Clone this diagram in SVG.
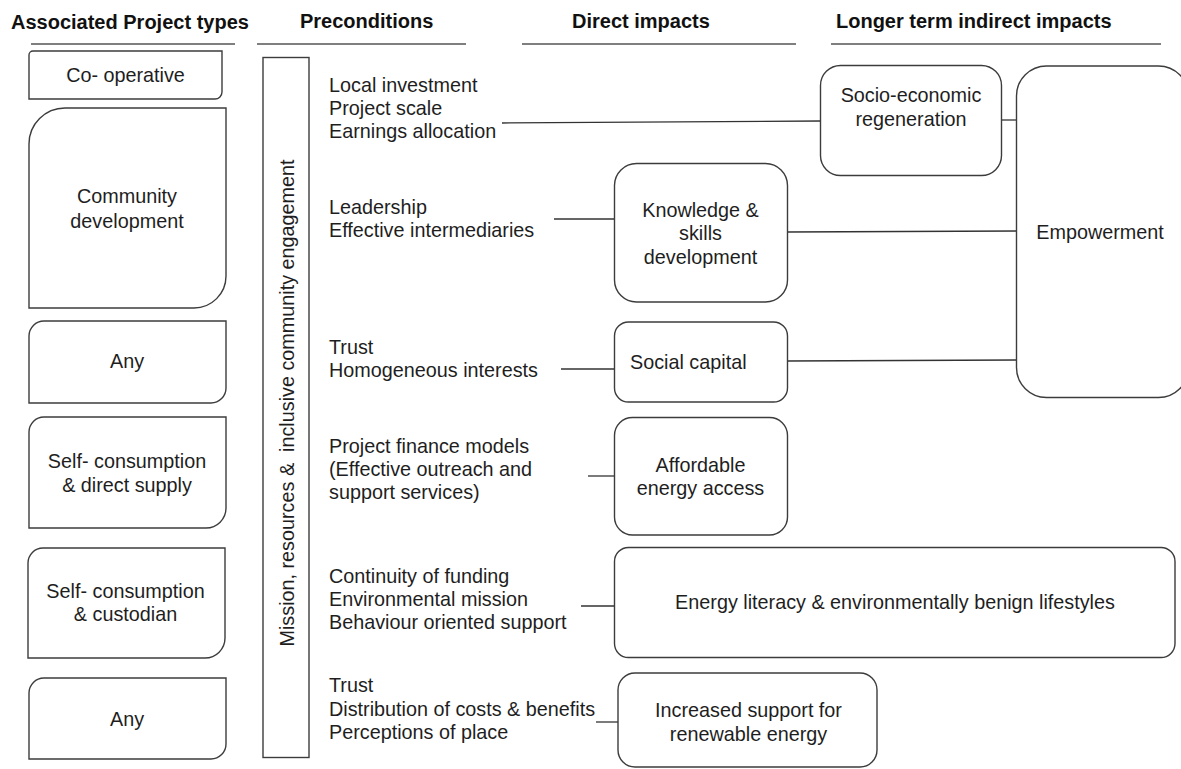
<svg xmlns="http://www.w3.org/2000/svg" width="1181" height="769" viewBox="0 0 1181 769">
<style>
text{font-family:"Liberation Sans",Arial,sans-serif;font-size:19.8px;fill:#1e1e1e}
.h{font-weight:bold;font-size:20px;fill:#111}
.c{text-anchor:middle}
.box{fill:#fff;stroke:#3c3c3c;stroke-width:1.4}
.ul{stroke:#555;stroke-width:1.6;fill:none}
.ln{stroke:#333;stroke-width:1.3;fill:none}
</style>
<rect width="1181" height="769" fill="#fff"/>
<g id="headers">
<text class="h" x="11" y="29">Associated Project types</text>
<text class="h" x="300" y="28">Preconditions</text>
<text class="h" x="572" y="28">Direct impacts</text>
<text class="h" x="836" y="28">Longer term indirect impacts</text>
<line class="ul" x1="31" y1="44" x2="235" y2="44"/>
<line class="ul" x1="257" y1="44" x2="466" y2="44"/>
<line class="ul" x1="522" y1="44" x2="796" y2="44"/>
<line class="ul" x1="831" y1="44" x2="1161" y2="44"/>
</g>
<g id="connectors">
<line class="ln" x1="502" y1="123" x2="821" y2="121"/>
<line class="ln" x1="1001" y1="120" x2="1017" y2="120"/>
<line class="ln" x1="554" y1="219" x2="614" y2="219"/>
<line class="ln" x1="787" y1="232" x2="1017" y2="231"/>
<line class="ln" x1="561" y1="369" x2="614" y2="369"/>
<line class="ln" x1="787" y1="361" x2="1017" y2="360"/>
<line class="ln" x1="588" y1="476" x2="614" y2="476"/>
<line class="ln" x1="581" y1="606" x2="614" y2="606"/>
<line class="ln" x1="596" y1="722" x2="618" y2="722"/>
</g>
<g id="type-cooperative">
<path class="box" d="M33,51 H222 V92 A7,7 0 0 1 215,99 H29 V55 A4,4 0 0 1 33,51 Z"/>
<text class="c" x="125.5" y="82">Co- operative</text>
</g>
<g id="type-community">
<path class="box" d="M65,108 H226 V276 A32,32 0 0 1 194,308 H29 V144 A36,36 0 0 1 65,108 Z"/>
<text class="c" x="127" y="203">Community</text>
<text class="c" x="127" y="228">development</text>
</g>
<g id="type-any-1">
<path class="box" d="M44,321 H226 V388 A15,15 0 0 1 211,403 H29 V336 A15,15 0 0 1 44,321 Z"/>
<text class="c" x="127" y="368">Any</text>
</g>
<g id="type-self-direct">
<path class="box" d="M44,417 H226 V508 A20,20 0 0 1 206,528 H29 V432 A15,15 0 0 1 44,417 Z"/>
<text class="c" x="127" y="468">Self- consumption</text>
<text class="c" x="127" y="492">&amp; direct supply</text>
</g>
<g id="type-self-custodian">
<path class="box" d="M43,548 H225 V638 A20,20 0 0 1 205,658 H28 V563 A15,15 0 0 1 43,548 Z"/>
<text class="c" x="125.5" y="598">Self- consumption</text>
<text class="c" x="125.5" y="621">&amp; custodian</text>
</g>
<g id="type-any-2">
<path class="box" d="M44,678 H226 V744 A15,15 0 0 1 211,759 H29 V693 A15,15 0 0 1 44,678 Z"/>
<text class="c" x="127" y="726">Any</text>
</g>
<g id="mission-bar">
<rect class="box" x="263" y="57.5" width="46" height="700"/>
<text class="c" transform="translate(294,403) rotate(-90)">Mission, resources &amp;&#160; inclusive community engagement</text>
</g>
<g id="pre-1">
<text x="329" y="92">Local investment</text>
<text x="329" y="115">Project scale</text>
<text x="329" y="138">Earnings allocation</text>
</g>
<g id="pre-2">
<text x="329" y="214">Leadership</text>
<text x="329" y="237">Effective intermediaries</text>
</g>
<g id="pre-3">
<text x="329" y="354">Trust</text>
<text x="329" y="377">Homogeneous interests</text>
</g>
<g id="pre-4">
<text x="329" y="453">Project finance models</text>
<text x="329" y="476">(Effective outreach and</text>
<text x="329" y="499">support services)</text>
</g>
<g id="pre-5">
<text x="329" y="583">Continuity of funding</text>
<text x="329" y="606">Environmental mission</text>
<text x="329" y="629">Behaviour oriented support</text>
</g>
<g id="pre-6">
<text x="329" y="692">Trust</text>
<text x="329" y="716">Distribution of costs &amp; benefits</text>
<text x="329" y="739">Perceptions of place</text>
</g>
<g id="socio-economic">
<rect class="box" x="820.5" y="65.5" width="181" height="110" rx="20"/>
<text class="c" x="911" y="102">Socio-economic</text>
<text class="c" x="911" y="126">regeneration</text>
</g>
<g id="empowerment">
<rect class="box" x="1016.5" y="66" width="172" height="331.5" rx="30"/>
<text class="c" x="1100" y="239">Empowerment</text>
</g>
<g id="knowledge">
<rect class="box" x="614.5" y="163.5" width="173" height="138.5" rx="22"/>
<text class="c" x="700.5" y="217">Knowledge &amp;</text>
<text class="c" x="700.5" y="240">skills</text>
<text class="c" x="700.5" y="264">development</text>
</g>
<g id="social-capital">
<rect class="box" x="614.5" y="322" width="173" height="80" rx="14"/>
<text x="630" y="369">Social capital</text>
</g>
<g id="affordable">
<rect class="box" x="614.5" y="417.5" width="173" height="117.5" rx="18"/>
<text class="c" x="700.5" y="472">Affordable</text>
<text class="c" x="700.5" y="495">energy access</text>
</g>
<g id="energy-literacy">
<rect class="box" x="614.5" y="547.5" width="560.5" height="110" rx="14"/>
<text class="c" x="895" y="609">Energy literacy &amp; environmentally benign lifestyles</text>
</g>
<g id="increased-support">
<rect class="box" x="618" y="673" width="259" height="94" rx="17"/>
<text class="c" x="748.5" y="717">Increased support for</text>
<text class="c" x="748.5" y="741">renewable energy</text>
</g>
</svg>
